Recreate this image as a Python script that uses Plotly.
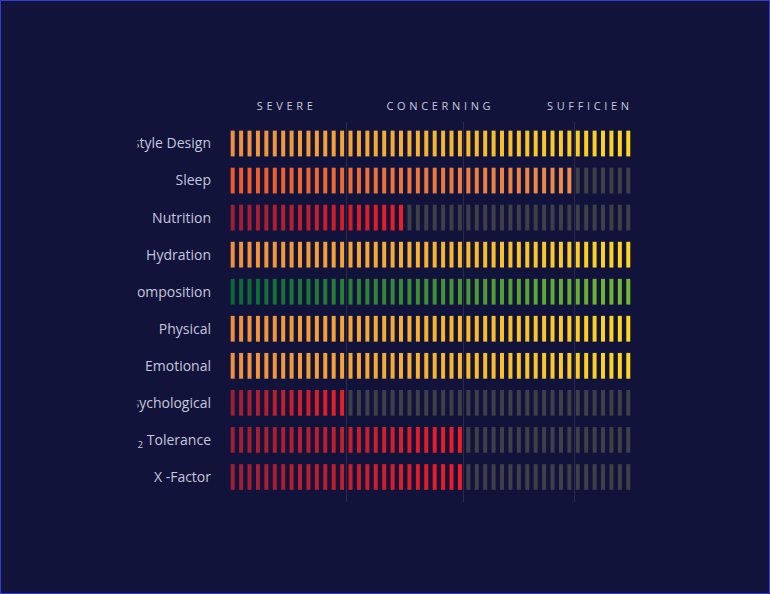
import plotly.graph_objects as go

# ---------------- data ----------------
categories = ["Lifestyle Design", "Sleep", "Nutrition", "Hydration", "Body Composition",
              "Physical", "Emotional", "Psychological", "O<sub>2</sub> Tolerance", "X -Factor"]
filled_segments = [48, 41, 21, 48, 48, 48, 48, 14, 28, 28]
total_segments = 48
band_labels = ["SEVERE", "CONCERNING", "SUFFICIENT"]
band_centers = [6.2, 24.45, 42.8]
band_edges = [-0.3, 13.5, 27.4, 40.6]

# ---------------- styles ----------------
BG = "#11133b"
EMPTY = "#3f3f47"
gradients = {
    "Lifestyle Design": ("#f1903c", "#fdd61e"),
    "Sleep": ("#ef5a27", "#ef8c46"),
    "Nutrition": ("#9c1f34", "#ee1c25"),
    "Hydration": ("#f1903c", "#fdd61e"),
    "Body Composition": ("#0a6738", "#74b92e"),
    "Physical": ("#f1903c", "#fdd61e"),
    "Emotional": ("#f1903c", "#fdd61e"),
    "Psychological": ("#9c1f34", "#ee1c25"),
    "O<sub>2</sub> Tolerance": ("#9c1f34", "#ee1c25"),
    "X -Factor": ("#9c1f34", "#ee1c25"),
}


def hex2rgb(h):
    h = h.lstrip("#")
    return [int(h[i:i + 2], 16) for i in (0, 2, 4)]


def lerp(c0, c1, t):
    a, b = hex2rgb(c0), hex2rgb(c1)
    return "rgb(%d,%d,%d)" % tuple(round(a[i] + (b[i] - a[i]) * t) for i in range(3))


fig = go.Figure()
for cat, n in zip(categories, filled_segments):
    c0, c1 = gradients[cat]
    colors = []
    for k in range(total_segments):
        if k < n:
            t = k / (n - 1) if n > 1 else 1
            colors.append(lerp(c0, c1, t))
        else:
            colors.append(EMPTY)
    fig.add_trace(go.Scatter(
        x=list(range(total_segments)),
        y=[cat] * total_segments,
        mode="markers",
        marker=dict(symbol="line-ns", size=18.4, line=dict(width=4, color=colors)),
        hoverinfo="skip",
        showlegend=False,
    ))

W, H = 770, 594
L, R, T, B = 230, 135, 122, 92
pw, ph = W - L - R, H - T - B
xr = [-0.32, 47.80]


def px_to_paper_x(px):
    return (px - L) / pw


def px_to_paper_y(py):
    return (H - B - py) / ph


spaced = ["\u2004".join(w) for w in band_labels]

fig.update_layout(
    width=W, height=H,
    margin=dict(l=L, r=R, t=T, b=B),
    paper_bgcolor=BG, plot_bgcolor=BG,
    font=dict(family="Open Sans", color="#c6c7dc"),
    xaxis=dict(range=xr, side="top", tickmode="array", tickvals=band_centers,
               ticktext=spaced, showgrid=False, zeroline=False, showline=False,
               ticks="", ticklabelstandoff=9,
               tickfont=dict(family="Open Sans", size=11, color="#c8c9dc"),
               minor=dict(tickmode="array", tickvals=band_edges, showgrid=True,
                          gridcolor="#2a2c4b", gridwidth=1, ticks="")),
    yaxis=dict(type="category", categoryorder="array", categoryarray=categories,
               range=[9.676, -0.581], showgrid=False, zeroline=False, showline=False,
               ticks="", ticklabelstandoff=18,
               tickfont=dict(family="Open Sans", size=14, color="#c6c7dc")),
    shapes=[
        # clip overflowing labels on the left
        dict(type="rect", xref="paper", yref="paper", layer="above",
             x0=px_to_paper_x(2), x1=px_to_paper_x(137.5),
             y0=px_to_paper_y(560), y1=px_to_paper_y(40),
             fillcolor=BG, line=dict(width=0)),
        # clip overflowing header on the right
        dict(type="rect", xref="paper", yref="paper", layer="above",
             x0=px_to_paper_x(629), x1=px_to_paper_x(766),
             y0=px_to_paper_y(119), y1=px_to_paper_y(60),
             fillcolor=BG, line=dict(width=0)),
        # page border
        dict(type="rect", xref="paper", yref="paper", layer="above",
             x0=px_to_paper_x(0.5), x1=px_to_paper_x(769.5),
             y0=px_to_paper_y(593.5), y1=px_to_paper_y(0.5),
             fillcolor="rgba(0,0,0,0)", line=dict(width=1, color="#3b3bd4")),
    ],
    hovermode=False,
)

fig.write_html("out.html", config={"displayModeBar": False},
               post_script="document.body.style.margin='0';document.body.style.background='" + BG + "';")
